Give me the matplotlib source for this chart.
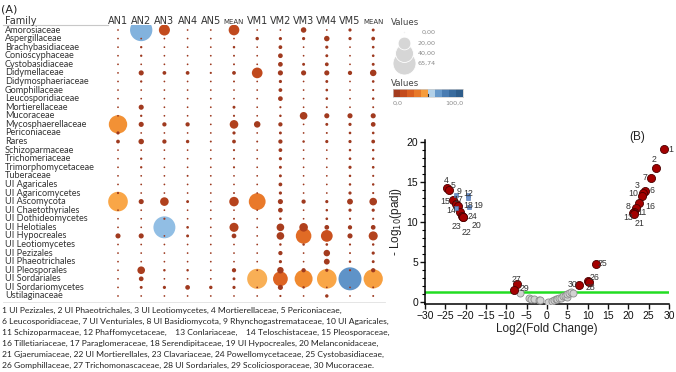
import numpy as np
import matplotlib
matplotlib.use("Agg")
import matplotlib.pyplot as plt
from matplotlib.colors import LinearSegmentedColormap
from matplotlib.transforms import blended_transform_factory

W, H = 676, 372
fig = plt.figure(figsize=(W / 100, H / 100), dpi=100)


def fx(px):
    return px / W


def fy(py):
    return 1 - py / H


# ---------------- Panel A data ----------------
families = ["Amorosiaceae", "Aspergillaceae", "Brachybasidiaceae", "Conioscyphaceae",
            "Cystobasidiaceae", "Didymellaceae", "Didymosphaeriaceae", "Gomphillaceae",
            "Leucosporidiaceae", "Mortierellaceae", "Mucoraceae", "Mycosphaerellaceae",
            "Periconiaceae", "Rares", "Schizoparmaceae", "Trichomeriaceae",
            "Trimorphomycetaceae", "Tuberaceae", "UI Agaricales", "UI Agaricomycetes",
            "UI Ascomycota", "UI Chaetothyriales", "UI Dothideomycetes", "UI Helotiales",
            "UI Hypocreales", "UI Leotiomycetes", "UI Pezizales", "UI Phaeotrichales",
            "UI Pleosporales", "UI Sordariales", "UI Sordariomycetes", "Ustilaginaceae"]
columns = ["AN1", "AN2", "AN3", "AN4", "AN5", "MEAN", "VM1", "VM2", "VM3", "VM4", "VM5", "MEAN"]

an1 = [0.1, 0.1, 0.1, 0.1, 0.1, 0.1, 0.1, 0.1, 0.1, 0.1, 0.1, 42, 1.0, 1.5, 0.1, 0.1,
       0.1, 0.1, 0.1, 0.3, 48, 0.1, 0.1, 0.1, 3, 0.1, 0.1, 0.1, 0.1, 0.1, 0.1, 0.1]
an2 = [62, 0.1, 0.4, 0.4, 0.1, 3, 0.4, 0.1, 0.1, 3, 0.4, 3, 0.1, 3.5, 0.1, 0.4,
       0.4, 0.1, 0.1, 0.1, 3, 0.1, 0.1, 0.1, 3, 0.1, 0.1, 0.1, 7, 2.5, 0.8, 0.1]
an3 = [15, 0.1, 0.1, 0.1, 0.1, 1.5, 0.1, 0.1, 0.1, 0.1, 0.1, 2, 0.1, 2, 0.1, 0.1,
       0.1, 0.1, 0.1, 0.1, 9, 0.1, 0.3, 60, 0.1, 0.1, 0.1, 0.1, 0.5, 0.1, 1, 0.1]
an4 = [0.1, 0.1, 0.1, 0.1, 0.1, 1.5, 0.1, 0.1, 0.1, 0.1, 0.1, 2, 0.1, 1.2, 0.1, 0.1,
       0.1, 0.2, 0.1, 0.1, 0.8, 0.1, 0.1, 0.6, 0.8, 0.1, 0.1, 0.1, 0.5, 0.1, 2.5, 0.1]
an5 = [0.1, 0.1, 0.1, 0.1, 0.1, 0.3, 0.1, 0.1, 0.1, 0.1, 0.1, 0.1, 0.1, 0.2, 0.1, 0.1,
       0.1, 0.1, 0.1, 0.1, 0.1, 0.1, 0.1, 0.1, 0.1, 0.1, 0.1, 0.1, 0.1, 0.1, 1.2, 0.1]
mean_an = [14, 0.1, 0.5, 0.2, 0.2, 1.5, 0.2, 0.1, 0.1, 0.8, 0.3, 9, 1, 1.5, 0.3, 0.2,
           0.3, 0.1, 0.1, 0.2, 11, 0.1, 0.2, 10, 2.5, 0.1, 0.1, 0.1, 2, 0.8, 1, 0.1]
vm1 = [0.1, 1.2, 0.1, 0.1, 0.1, 14, 0.1, 0.1, 0.1, 0.1, 0.1, 5, 0.1, 0.2, 0.1, 0.1,
       0.1, 0.1, 0.1, 0.1, 35, 0.1, 0.1, 0.1, 0.1, 0.1, 0.1, 0.1, 0.1, 50, 0.1, 0.1]
vm2 = [0.1, 1, 1.5, 2.5, 2.5, 3, 1, 1.5, 2.5, 0.3, 0.5, 2, 0.8, 2, 1.5, 1,
       0.8, 0.8, 1.5, 1, 3, 2.5, 0.6, 7, 7, 0.5, 2, 1, 5, 27, 3, 0.3]
vm3 = [3.5, 1, 0.1, 0.1, 0.8, 3, 0.1, 0.1, 0.1, 0.1, 7, 0.1, 0.1, 0.5, 0.1, 0.1,
       0.1, 0.1, 0.1, 0.1, 2, 0.1, 0.1, 9, 30, 0.5, 0.1, 0.1, 2, 40, 0.5, 0.1]
vm4 = [0.1, 3.5, 1, 0.8, 1.5, 3, 0.8, 0.6, 0.6, 0.2, 3, 0.8, 0.2, 1, 0.1, 0.1,
       0.1, 0.1, 0.1, 0.1, 1, 0.5, 0.6, 2.5, 17, 0.6, 5, 4, 1, 48, 0.1, 1.2]
vm5 = [1, 1, 0.1, 0.1, 0.1, 2, 0.1, 0.1, 0.1, 0.1, 3, 1, 0.6, 1, 0.5, 0.6,
       1, 0.5, 0.5, 1, 4, 1, 0.3, 2, 3, 0.3, 0.2, 0.5, 0.3, 65.74, 0.1, 0.1]
mean_vm = [0.8, 1.5, 0.6, 0.6, 0.8, 5, 0.6, 0.3, 0.5, 0.2, 3, 2.5, 0.6, 1.5, 0.5, 0.5,
           0.6, 0.3, 0.5, 0.3, 7, 1, 0.3, 2.5, 10, 0.5, 1, 0.8, 2, 46, 0.2, 0.2]

size_legend_values = [0.0, 20.0, 40.0, 65.74]
size_legend_labels = ["0,00", "20,00", "40,00", "65,74"]

# ---------------- Panel B data ----------------
red_x = [28.7, 26.8, 25.6, 24.1, 23.7, 23.4, 22.7, 21.9, 21.5, 21.1, 21.3,
         -24.7, -24.2, -23.2, -22.5, -22.0, -21.4, -20.9, -20.7, -20.6,
         -7.4, -8.0, 7.8, 10.2, 10.25, 12.0]
red_y = [19.1, 16.75, 15.5, 13.9, 13.6, 13.2, 12.4, 11.7, 11.3, 11.1, 11.0,
         14.2, 14.0, 12.8, 12.3, 12.0, 11.3, 10.8, 10.65, 10.6,
         2.2, 1.5, 2.1, 2.6, 2.55, 4.75]
red_lab = ["1", "2", "7", "6", "3", "10", "16", "8", "11", "13", "21",
           "4", "5", "15", "17", "", "23", "20", "22", "24",
           "27", "", "30", "26", "28", "25"]
blue_x = [-22.4, -22.4, -19.4, -19.4, -19.2]
blue_y = [13.4, 11.7, 13.35, 13.0, 11.85]
blue_lab = ["9", "14", "12", "18", "19"]
gray_x = [-6.6, -4.4, -3.9, -3.2, -2.0, -1.6, 0.2, 1.2, 1.8, 2.2, 2.5, 3.0, 3.5,
          4.0, 4.5, 4.8, 5.0, 5.5, 5.9, 6.3]
gray_y = [1.1, 0.45, 0.4, 0.35, 0.25, 0.3, 0.05, 0.15, 0.25, 0.4, 0.35, 0.55, 0.45,
          0.8, 0.7, 0.6, 1.0, 1.1, 1.2, 1.15]
gray_lab = ["29"]
padj_threshold = 1.3

footer_lines = [
    "1 UI Pezizales, 2 UI Phaeotrichales, 3 UI Leotiomycetes, 4 Mortierellaceae, 5 Periconiaceae,",
    "6 Leucosporidiaceae, 7 UI Venturiales, 8 UI Basidiomycota, 9 Rhynchogastremataceae, 10 UI Agaricales,",
    "11 Schizoparmaceae, 12 Phaffomycetaceae,    13 Conlariaceae,    14 Teloschistaceae, 15 Pleosporaceae,",
    "16 Tilletiariaceae, 17 Paraglomeraceae, 18 Serendipitaceae, 19 UI Hypocreales, 20 Melanconidaceae,",
    "21 Gjaerumiaceae, 22 UI Mortierellales, 23 Clavariaceae, 24 Powellomycetaceae, 25 Cystobasidiaceae,",
    "26 Gomphillaceae, 27 Trichomonascaceae, 28 UI Sordariales, 29 Scoliciosporaceae, 30 Mucoraceae.",
]

# ---------------- styles ----------------
value_cmap = LinearSegmentedColormap.from_list("orange_blue", [
    (0.00, "#9c391f"), (0.06, "#a63c1e"), (0.12, "#bb451c"), (0.18, "#cc521e"),
    (0.25, "#d95f21"), (0.32, "#e57027"), (0.40, "#f08a30"), (0.46, "#f7a040"),
    (0.50, "#fbae50"), (0.55, "#b0d1ec"), (0.61, "#8bbae2"), (0.66, "#5e92c7"),
    (0.80, "#3f72a8"), (1.00, "#2a5783")])


def dot_size(v):
    d_px = np.sqrt(2.25 + 8.0 * np.asarray(v, dtype=float))
    return (d_px * 0.72) ** 2


FONT_A = "DejaVu Sans"
FONT_ROWS = "Lato"
FONT_B = "Liberation Sans"

# ---------------- Panel A ----------------
col_px0, col_step = 118.0, 23.2
row_px0, row_step = 30.0, 8.58
left_px, right_px, top_px, bot_px = 105, 385, 25, 300
ax_a = fig.add_axes([fx(left_px), fy(bot_px), (right_px - left_px) / W, (bot_px - top_px) / H])
ax_a.set_xlim((left_px - col_px0) / col_step, (right_px - col_px0) / col_step)
ax_a.set_ylim((bot_px - row_px0) / row_step, (top_px - row_px0) / row_step)
ax_a.axis("off")

matrix = np.array([an1, an2, an3, an4, an5, mean_an, vm1, vm2, vm3, vm4, vm5, mean_vm])
xs, ys, vs = [], [], []
for ci in range(len(columns)):
    for ri in range(len(families)):
        xs.append(ci)
        ys.append(ri)
        vs.append(matrix[ci, ri])
xs, ys, vs = np.array(xs), np.array(ys), np.array(vs)
order = np.argsort(-vs)
ax_a.scatter(xs[order], ys[order], s=dot_size(vs[order]),
             c=value_cmap(vs[order] / 100.0), linewidths=0, zorder=3)

tr_rows = blended_transform_factory(fig.transFigure, ax_a.transData)
for ri, fam in enumerate(families):
    ax_a.text(fx(5), ri, fam, transform=tr_rows, ha="left", va="center",
              fontsize=6.6, color="#333333", family=FONT_ROWS)

tr_cols = blended_transform_factory(ax_a.transData, fig.transFigure)
for ci, col in enumerate(columns):
    if col == "MEAN":
        ax_a.text(ci, fy(24), col, transform=tr_cols, ha="center", va="baseline",
                  fontsize=5.0, color="#333333", family=FONT_A)
    else:
        ax_a.text(ci, fy(24), col, transform=tr_cols, ha="center", va="baseline",
                  fontsize=7.0, color="#333333", family=FONT_A)

fig.text(fx(5), fy(24), "Family", ha="left", va="baseline", fontsize=7.0,
         color="#333333", family=FONT_A)
fig.text(fx(1), fy(12), "(A)", ha="left", va="baseline", fontsize=8.0,
         color="#222222", family=FONT_A)
fig.add_artist(plt.Line2D([fx(3), fx(108)], [fy(24.8), fy(24.8)], color="#c8c8c8", lw=0.8))
fig.add_artist(plt.Line2D([fx(3), fx(385)], [fy(301.5), fy(301.5)], color="#e0e0e0", lw=0.6))

# size legend
ax_s = fig.add_axes([fx(385), fy(78), 85 / W, 63 / H])
ax_s.set_xlim(385, 470)
ax_s.set_ylim(78, 15)
ax_s.axis("off")
leg_y = [32, 43, 53, 63]
for v, yy, lab in sorted(zip(size_legend_values, leg_y, size_legend_labels), key=lambda t: -t[0]):
    ax_s.scatter([404], [yy], s=dot_size(v), color="#d6d6d6", edgecolors="white",
                 linewidths=0.6, zorder=3)
    ax_s.text(436, yy, lab, ha="right", va="center", fontsize=4.6, color="#8a8a8a",
              family=FONT_A)
fig.text(fx(391), fy(25), "Values", ha="left", va="baseline", fontsize=6.2,
         color="#444444", family=FONT_A)

# colour legend
fig.text(fx(391), fy(86), "Values", ha="left", va="baseline", fontsize=6.2,
         color="#444444", family=FONT_A)
ax_c = fig.add_axes([fx(393), fy(97), 70 / W, 8 / H])
steps = np.arange(5, 100, 10)
ax_c.imshow((steps / 100.0)[None, :], cmap=value_cmap, vmin=0, vmax=1,
            aspect="auto", extent=[0, 100, 0, 1])
ax_c.axvline(50, ymin=0, ymax=0.35, color="#333333", lw=0.8)
ax_c.set_xticks([])
ax_c.set_yticks([])
for sp in ax_c.spines.values():
    sp.set_color("#cccccc")
    sp.set_linewidth(0.5)
fig.text(fx(393), fy(103), "0,0", ha="left", va="center", fontsize=4.6,
         color="#8a8a8a", family=FONT_A)
fig.text(fx(463), fy(103), "100,0", ha="right", va="center", fontsize=4.6,
         color="#8a8a8a", family=FONT_A)

# footer
for li, line in enumerate(footer_lines):
    fig.text(fx(1.5), fy(310.7 + 11 * li), line, ha="left", va="center",
             fontsize=6.1, color="#222222", family="Lato")

# ---------------- Panel B ----------------
ax_b = fig.add_axes([fx(425), fy(303.6), (669 - 425) / W, (303.6 - 139.6) / H])
ax_b.set_xlim(-30, 30)
ax_b.set_ylim(-0.2, 20.3)
ax_b.axhline(padj_threshold, color="#22dd22", lw=1.8, zorder=1)
ax_b.scatter(gray_x, gray_y, s=26, color="#d2d2d2", edgecolors="#8c8c8c",
             linewidths=0.6, zorder=3)
ax_b.scatter(red_x, red_y, s=34, color="#a30000", edgecolors="#4a0000",
             linewidths=0.6, zorder=4)
ax_b.scatter(blue_x, blue_y, s=11, marker="s", color="#6d93cc", edgecolors="#4f74ad",
             linewidths=0.4, zorder=5)

# label offsets in pixels (dx right, dy up)
red_offsets = [(7, 0), (-2, 9), (-6, 1), (7, 0), (-6, 8), (-9, 3), (11, -4), (-8, 2),
               (8, -1), (-5, -4), (6, -9),
               (0, 8), (4, 4), (-7, -2), (3, 4), (0, 0), (-4, -15), (14, -10), (4, -16), (9, 1),
               (0, 5), (0, 0), (-6, 1), (6, 4), (2, -6), (7, 0)]
for x, y, lab, off in zip(red_x, red_y, red_lab, red_offsets):
    if lab:
        ax_b.annotate(lab, (x, y), xytext=(off[0] * 0.72, off[1] * 0.72),
                      textcoords="offset points", ha="center", va="center",
                      fontsize=6.3, color="#333333", family=FONT_B, zorder=6)
blue_offsets = [(3, 3), (-5, -2), (0, 2), (0, -8), (9, 2)]
for x, y, lab, off in zip(blue_x, blue_y, blue_lab, blue_offsets):
    ax_b.annotate(lab, (x, y), xytext=(off[0] * 0.72, off[1] * 0.72),
                  textcoords="offset points", ha="center", va="center",
                  fontsize=6.3, color="#333333", family=FONT_B, zorder=6)
ax_b.annotate(gray_lab[0], (gray_x[0], gray_y[0]), xytext=(4 * 0.72, 5 * 0.72),
              textcoords="offset points", ha="center", va="center",
              fontsize=6.3, color="#333333", family=FONT_B, zorder=6)

ax_b.set_xticks(np.arange(-30, 31, 5))
ax_b.set_yticks(np.arange(0, 21, 5))
ax_b.set_yticks(np.arange(0, 21, 1), minor=True)
ax_b.tick_params(axis="both", which="major", direction="out", length=3.5, width=1.0,
                 labelsize=7.5, pad=1.5, colors="#111111")
ax_b.tick_params(axis="y", which="minor", direction="out", length=2, width=0.8)
for lab in ax_b.get_xticklabels() + ax_b.get_yticklabels():
    lab.set_family(FONT_B)
for side in ("top", "right"):
    ax_b.spines[side].set_visible(False)
for side in ("left", "bottom"):
    ax_b.spines[side].set_linewidth(1.1)
ax_b.set_xlabel("Log2(Fold Change)", fontsize=8.5, family=FONT_B, labelpad=2, color="#222222")
ax_b.set_ylabel("- Log$_{10}$(padj)", fontsize=8.5, family=FONT_B, labelpad=2, color="#222222")
fig.text(fx(637), fy(137), "(B)", ha="center", va="center", fontsize=8.5,
         family=FONT_B, color="#222222")

fig.savefig("out.png", dpi=100)
